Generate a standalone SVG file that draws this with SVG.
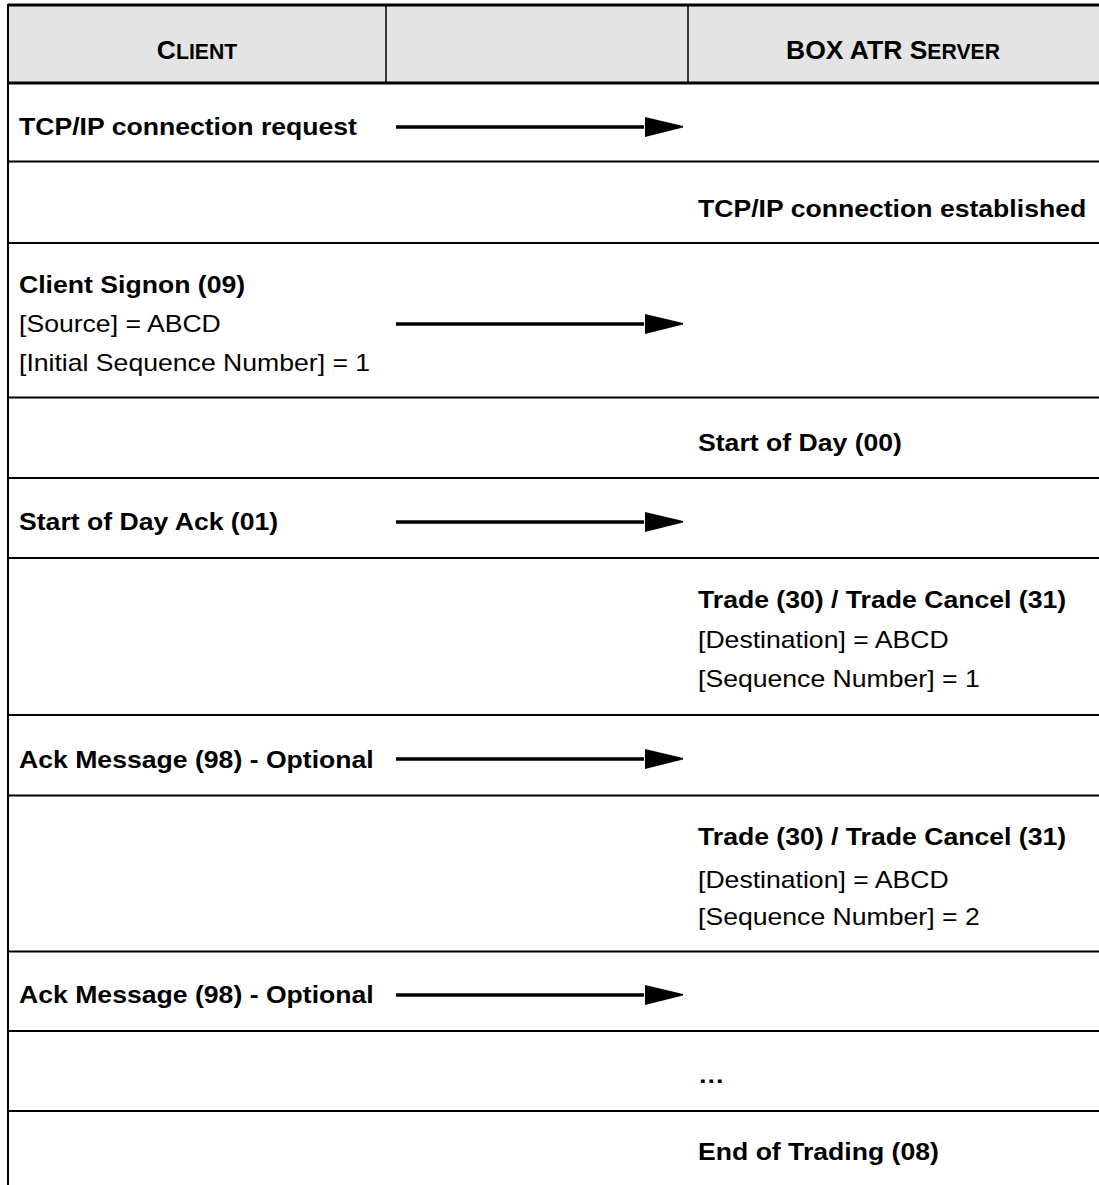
<svg xmlns="http://www.w3.org/2000/svg" width="1099" height="1185" viewBox="0 0 1099 1185">
<style>
text{font-family:"Liberation Sans",Arial,sans-serif;font-size:23px;fill:#000}
.b{font-weight:bold}
.h{font-size:26.5px;font-weight:bold}
.sc{font-size:21.2px}
.row{stroke:#000;stroke-width:2}
.hdr{stroke:#000;stroke-width:3}
.arrow{stroke:#000;stroke-width:3.5;fill:none}
</style>
<defs>
<marker id="ah" markerUnits="userSpaceOnUse" markerWidth="40" markerHeight="22" refX="0" refY="10" orient="auto">
<path d="M1,0 L39,9 L39,10.5 L1,20 Z" fill="#000"/>
</marker>
</defs>
<g id="table">
<rect x="8" y="5" width="1091" height="78" fill="#e4e4e4"/>
<line class="hdr" x1="8" y1="5" x2="1099" y2="5"/>
<line class="hdr" x1="8" y1="83" x2="1099" y2="83"/>
<line stroke="#000" stroke-width="1.5" x1="386" y1="5" x2="386" y2="83"/>
<line stroke="#000" stroke-width="1.5" x1="688" y1="5" x2="688" y2="83"/>
<line stroke="#000" stroke-width="2" x1="8" y1="4" x2="8" y2="1185"/>
<line class="row" x1="8" y1="161.5" x2="1099" y2="161.5"/>
<line class="row" x1="8" y1="243" x2="1099" y2="243"/>
<line class="row" x1="8" y1="397.5" x2="1099" y2="397.5"/>
<line class="row" x1="8" y1="478" x2="1099" y2="478"/>
<line class="row" x1="8" y1="558" x2="1099" y2="558"/>
<line class="row" x1="8" y1="715" x2="1099" y2="715"/>
<line class="row" x1="8" y1="795.5" x2="1099" y2="795.5"/>
<line class="row" x1="8" y1="951.5" x2="1099" y2="951.5"/>
<line class="row" x1="8" y1="1031" x2="1099" y2="1031"/>
<line class="row" x1="8" y1="1111" x2="1099" y2="1111"/>
</g>
<g id="header-client"><text class="h" x="197" y="59" text-anchor="middle">C<tspan class="sc">LIENT</tspan></text></g>
<g id="header-server"><text class="h" x="893" y="59" text-anchor="middle">BOX ATR S<tspan class="sc">ERVER</tspan></text></g>
<g id="n1"><text class="b" transform="translate(19,135) scale(1.157 1)">TCP/IP connection request</text></g>
<g id="n2"><text class="b" transform="translate(698,217) scale(1.157 1)">TCP/IP connection established</text></g>
<g id="n3">
<text class="b" transform="translate(19,293) scale(1.157 1)">Client Signon (09)</text>
<text transform="translate(19,332) scale(1.157 1)">[Source] = ABCD</text>
<text transform="translate(19,371) scale(1.157 1)">[Initial Sequence Number] = 1</text>
</g>
<g id="n4"><text class="b" transform="translate(698,451) scale(1.157 1)">Start of Day (00)</text></g>
<g id="n5"><text class="b" transform="translate(19,530) scale(1.157 1)">Start of Day Ack (01)</text></g>
<g id="n6">
<text class="b" transform="translate(698,608) scale(1.157 1)">Trade (30) / Trade Cancel (31)</text>
<text transform="translate(698,648) scale(1.157 1)">[Destination] = ABCD</text>
<text transform="translate(698,687) scale(1.157 1)">[Sequence Number] = 1</text>
</g>
<g id="n7"><text class="b" transform="translate(19,768) scale(1.157 1)">Ack Message (98) - Optional</text></g>
<g id="n8">
<text class="b" transform="translate(698,845) scale(1.157 1)">Trade (30) / Trade Cancel (31)</text>
<text transform="translate(698,888) scale(1.157 1)">[Destination] = ABCD</text>
<text transform="translate(698,925) scale(1.157 1)">[Sequence Number] = 2</text>
</g>
<g id="n9"><text class="b" transform="translate(19,1003) scale(1.157 1)">Ack Message (98) - Optional</text></g>
<g id="n10"><text class="b" transform="translate(698,1083) scale(1.157 1)">…</text></g>
<g id="n11"><text class="b" transform="translate(698,1160) scale(1.157 1)">End of Trading (08)</text></g>
<g id="connectors">
<line class="arrow" x1="396" y1="127" x2="644" y2="127" marker-end="url(#ah)"/>
<line class="arrow" x1="396" y1="324" x2="644" y2="324" marker-end="url(#ah)"/>
<line class="arrow" x1="396" y1="522" x2="644" y2="522" marker-end="url(#ah)"/>
<line class="arrow" x1="396" y1="759" x2="644" y2="759" marker-end="url(#ah)"/>
<line class="arrow" x1="396" y1="995" x2="644" y2="995" marker-end="url(#ah)"/>
</g>
</svg>
